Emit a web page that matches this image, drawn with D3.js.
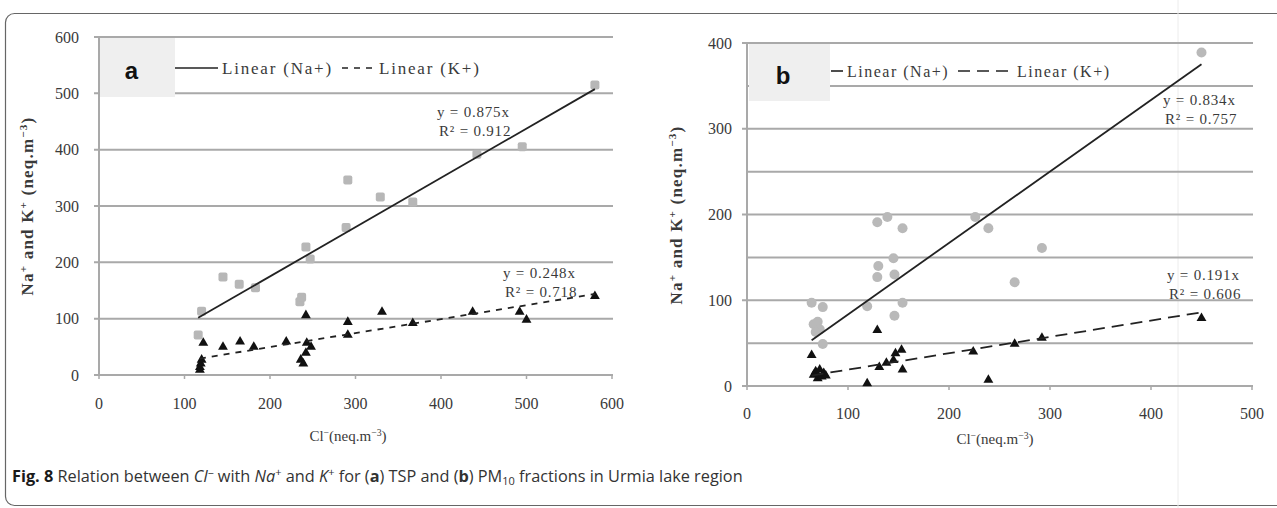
<!DOCTYPE html>
<html>
<head>
<meta charset="utf-8">
<script src="https://cdn.jsdelivr.net/npm/d3@7"></script>
<style>
  body { margin: 0; background: #fff; }
  svg { display: block; }
</style>
</head>
<body>
<svg id="fig" width="1277" height="508"></svg>
<script>
// Panel a (TSP): Cl- vs Na+ and K+
const aNaX = [116, 120, 145, 164, 183, 235, 237, 242, 247, 289, 291, 329, 367, 442, 495, 580];
const aNaY = [71, 113, 174, 161, 155, 130, 138, 227, 206, 262, 346, 316, 307, 392, 405, 515];
const aKX = [118, 118, 119, 120, 122, 145, 165, 181, 219, 236, 239, 242, 243, 248, 242, 291, 291, 331, 367, 437, 492, 500, 580];
const aKY = [9, 14, 20, 27, 57, 50, 59, 50, 59, 27, 20, 39, 57, 50, 106, 94, 71, 112, 92, 112, 112, 98, 140];
const aFit = { na: 0.875, naR2: "0.912", k: 0.248, kR2: "0.718" };
const aTicksX = [0, 100, 200, 300, 400, 500, 600];
const aTicksY = [0, 100, 200, 300, 400, 500, 600];

// Panel b (PM10)
const bNaX = [64, 75, 66, 70, 72, 68, 75, 119, 129, 139, 154, 130, 145, 129, 146, 154, 146, 226, 239, 265, 292, 450];
const bNaY = [97, 92, 72, 75, 66, 63, 49, 93, 191, 197, 184, 140, 149, 127, 130, 97, 82, 197, 184, 121, 161, 389];
const bKX = [64, 66, 68, 70, 72, 74, 76, 78, 119, 129, 131, 138, 145, 147, 153, 154, 224, 239, 265, 292, 450];
const bKY = [36, 13, 17, 9, 19, 11, 15, 12, 3, 65, 22, 27, 30, 38, 42, 19, 40, 7, 49, 56, 79];
const bFit = { na: 0.834, naR2: "0.757", k: 0.191, kR2: "0.606" };
const bTicksX = [0, 100, 200, 300, 400, 500];
const bTicksY = [0, 100, 200, 300, 400];
const bGridY = [50, 150, 250, 350];

const svg = d3.select("#fig");
const serif = "Liberation Serif, Times New Roman, serif";
const gridColor = "#a9a9a9";
const textColor = "#3a3a3a";

// frame around the figure (right side runs off the page)
svg.append("rect")
  .attr("x", 5.5).attr("y", 13.5)
  .attr("width", 1300).attr("height", 492)
  .attr("rx", 9)
  .attr("fill", "none")
  .attr("stroke", "#666")
  .attr("stroke-width", 1.2);

// faint scan line on the right
svg.append("line")
  .attr("x1", 1178).attr("x2", 1178)
  .attr("y1", 0).attr("y2", 508)
  .attr("stroke", "#ececec");

function supText(sel, parts, size) {
  // parts: [text, "sup"|"sub"|null]
  parts.forEach(p => {
    const t = sel.append("tspan").text(p[0]);
    if (p[1] === "sup") t.attr("baseline-shift", "super").attr("font-size", size * 0.65);
    if (p[1] === "sub") t.attr("baseline-shift", "sub").attr("font-size", size * 0.65);
  });
}

function drawPanel(o) {
  const g = svg.append("g");
  const x = d3.scaleLinear().domain(o.xDomain).range(o.xRange);
  const y = d3.scaleLinear().domain(o.yDomain).range(o.yRange);

  // minor gridlines
  (o.gridMinor || []).forEach(v => {
    g.append("line")
      .attr("x1", o.xRange[0]).attr("x2", o.xRange[1] + 1)
      .attr("y1", y(v)).attr("y2", y(v))
      .attr("stroke", gridColor).attr("stroke-width", 2);
  });

  // major gridlines + y labels
  o.ticksY.forEach(v => {
    g.append("line")
      .attr("x1", o.xRange[0] - 5).attr("x2", o.xRange[1] + 1)
      .attr("y1", y(v)).attr("y2", y(v))
      .attr("stroke", gridColor).attr("stroke-width", 2);
    g.append("text")
      .attr("x", o.xRange[0] - o.yLabelGap).attr("y", y(v))
      .attr("dy", "0.35em")
      .attr("text-anchor", "end")
      .attr("font-family", serif).attr("font-size", 16)
      .attr("fill", textColor)
      .text(v);
  });

  // y axis line
  g.append("line")
    .attr("x1", o.xRange[0]).attr("x2", o.xRange[0])
    .attr("y1", o.yRange[0]).attr("y2", o.yRange[1])
    .attr("stroke", gridColor).attr("stroke-width", 2);

  // x ticks + labels
  o.ticksX.forEach(v => {
    g.append("line")
      .attr("x1", x(v)).attr("x2", x(v))
      .attr("y1", o.yRange[0]).attr("y2", o.yRange[0] + 4)
      .attr("stroke", gridColor).attr("stroke-width", 1.5);
    g.append("text")
      .attr("x", x(v)).attr("y", o.tickLabelY)
      .attr("text-anchor", "middle")
      .attr("font-family", serif).attr("font-size", 16)
      .attr("fill", textColor)
      .text(v);
  });

  // axis titles
  const xt = g.append("text")
    .attr("x", o.xTitle[0]).attr("y", o.xTitle[1])
    .attr("text-anchor", "middle")
    .attr("font-family", serif).attr("font-size", 15)
    .attr("fill", textColor);
  supText(xt, [["Cl", null], ["\u2212", "sup"], ["(neq.m", null], ["\u22123", "sup"], [")", null]], 15);

  const yt = g.append("text")
    .attr("transform", `translate(${o.yTitle[0]},${o.yTitle[1]}) rotate(-90)`)
    .attr("text-anchor", "middle")
    .attr("font-family", serif).attr("font-size", 17)
    .attr("font-weight", "bold")
    .attr("letter-spacing", 1.2)
    .attr("fill", textColor);
  supText(yt, [["Na", null], ["+", "sup"], [" and K", null], ["+", "sup"], [" (neq.m", null], ["\u22123", "sup"], [")", null]], 17);

  // legend panel letter box
  g.append("rect")
    .attr("x", o.box[0]).attr("y", o.box[1])
    .attr("width", o.box[2]).attr("height", o.box[3])
    .attr("fill", "#efefef");
  g.append("text")
    .attr("x", o.box[0] + o.box[2] * 0.42).attr("y", o.box[1] + o.box[3] * 0.55)
    .attr("dy", "0.35em")
    .attr("text-anchor", "middle")
    .attr("font-family", "Liberation Sans, Arial, sans-serif")
    .attr("font-weight", "bold").attr("font-size", 24)
    .attr("fill", "#111")
    .text(o.letter);

  // legend entries
  const ly = o.legend.y;
  g.append("line")
    .attr("x1", o.legend.na[0]).attr("x2", o.legend.na[1])
    .attr("y1", ly).attr("y2", ly)
    .attr("stroke", "#222").attr("stroke-width", 1.6);
  g.append("text")
    .attr("x", o.legend.na[1] + 4).attr("y", ly).attr("dy", "0.35em")
    .attr("font-family", serif).attr("font-size", o.legend.size)
    .attr("letter-spacing", o.legend.ls)
    .attr("fill", textColor)
    .text("Linear (Na+)");
  g.append("line")
    .attr("x1", o.legend.k[0]).attr("x2", o.legend.k[1])
    .attr("y1", ly).attr("y2", ly)
    .attr("stroke", "#222").attr("stroke-width", 1.6)
    .attr("stroke-dasharray", o.dash);
  g.append("text")
    .attr("x", o.legend.k[1] + 5).attr("y", ly).attr("dy", "0.35em")
    .attr("font-family", serif).attr("font-size", o.legend.size)
    .attr("letter-spacing", o.legend.ls)
    .attr("fill", textColor)
    .text("Linear (K+)");

  // Na points
  const naPts = o.naX.map((v, i) => [v, o.naY[i]]);
  const kPts = o.kX.map((v, i) => [v, o.kY[i]]);
  if (o.naShape === "square") {
    g.selectAll("rect.na").data(naPts).enter().append("rect")
      .attr("class", "na")
      .attr("x", d => x(d[0]) - 4.5).attr("y", d => y(d[1]) - 4.5)
      .attr("width", 9).attr("height", 9).attr("rx", 2)
      .attr("fill", "#b7b7b7");
  } else {
    g.selectAll("circle.na").data(naPts).enter().append("circle")
      .attr("class", "na")
      .attr("cx", d => x(d[0])).attr("cy", d => y(d[1]))
      .attr("r", 5)
      .attr("fill", "#b9b9b9");
  }

  // trend lines
  const naExt = d3.extent(o.naX);
  const kExt = d3.extent(o.kX);
  g.append("line")
    .attr("x1", x(naExt[0])).attr("y1", y(naExt[0] * o.fit.na))
    .attr("x2", x(naExt[1])).attr("y2", y(naExt[1] * o.fit.na))
    .attr("stroke", "#222").attr("stroke-width", 1.8);

  // K triangles
  g.selectAll("path.k").data(kPts).enter().append("path")
    .attr("class", "k")
    .attr("transform", d => `translate(${x(d[0])},${y(d[1])})`)
    .attr("d", d3.symbol().type(d3.symbolTriangle).size(42))
    .attr("fill", "#111");

  g.append("line")
    .attr("x1", x(kExt[0])).attr("y1", y(kExt[0] * o.fit.k))
    .attr("x2", x(kExt[1])).attr("y2", y(kExt[1] * o.fit.k))
    .attr("stroke", "#222").attr("stroke-width", 1.8)
    .attr("stroke-dasharray", o.dash);

  // equations
  [[o.eqNa, "y = " + o.fit.na + "x", "R\u00b2 = " + o.fit.naR2],
   [o.eqK, "y = " + o.fit.k + "x", "R\u00b2 = " + o.fit.kR2]].forEach(e => {
    g.append("text")
      .attr("x", e[0][0]).attr("y", e[0][1])
      .attr("font-family", serif).attr("font-size", 15)
      .attr("letter-spacing", 0.8)
      .attr("fill", textColor).text(e[1]);
    g.append("text")
      .attr("x", e[0][0] + 2).attr("y", e[0][1] + 19)
      .attr("font-family", serif).attr("font-size", 15)
      .attr("letter-spacing", 0.8)
      .attr("fill", textColor).text(e[2]);
  });
}

drawPanel({
  letter: "a",
  xDomain: [0, 600], xRange: [99, 612],
  yDomain: [0, 600], yRange: [375, 37],
  ticksX: aTicksX, ticksY: aTicksY,
  yLabelGap: 20,
  tickLabelY: 409,
  xTitle: [348, 441], yTitle: [33, 206],
  box: [100, 38, 75, 59],
  legend: { y: 68, na: [175, 218], k: [342, 374], size: 17, ls: 1.8 },
  dash: "6,6",
  naX: aNaX, naY: aNaY, kX: aKX, kY: aKY, fit: aFit,
  naShape: "square",
  eqNa: [437, 117], eqK: [503, 278]
});

drawPanel({
  letter: "b",
  xDomain: [0, 500], xRange: [747, 1252],
  yDomain: [0, 400], yRange: [386, 43],
  ticksX: bTicksX, ticksY: bTicksY, gridMinor: bGridY,
  yLabelGap: 15,
  tickLabelY: 419,
  xTitle: [995, 444], yTitle: [682, 215],
  box: [749, 44, 81, 57],
  legend: { y: 71, na: [831, 843], k: [958, 1012], size: 16, ls: 1.5 },
  dash: "12,7",
  naX: bNaX, naY: bNaY, kX: bKX, kY: bKY, fit: bFit,
  naShape: "circle",
  eqNa: [1163, 105], eqK: [1167, 280]
});

// caption
const cap = svg.append("text")
  .attr("x", 12).attr("y", 482)
  .attr("font-family", "Open Sans, Noto Sans, sans-serif")
  .attr("font-size", 16.3)
  .attr("fill", "#333");
const capParts = [
  { t: "Fig. 8", w: "bold", c: "#1a1a1a" },
  { t: " Relation between " },
  { t: "Cl", s: "italic" },
  { t: "\u2212", s: "italic", sh: "5" },
  { t: " with " },
  { t: "Na", s: "italic" },
  { t: "+", sh: "6" },
  { t: " and " },
  { t: "K", s: "italic" },
  { t: "+", sh: "6" },
  { t: " for (" },
  { t: "a", w: "bold" },
  { t: ") TSP and (" },
  { t: "b", w: "bold" },
  { t: ") PM" },
  { t: "10", sh: "-3" },
  { t: " fractions in Urmia lake region" }
];
capParts.forEach(p => {
  const ts = cap.append("tspan").text(p.t);
  if (p.w) ts.attr("font-weight", p.w);
  if (p.s) ts.attr("font-style", p.s);
  if (p.c) ts.attr("fill", p.c);
  if (p.sh) ts.attr("baseline-shift", p.sh).attr("font-size", 11);
});
</script>
</body>
</html>
